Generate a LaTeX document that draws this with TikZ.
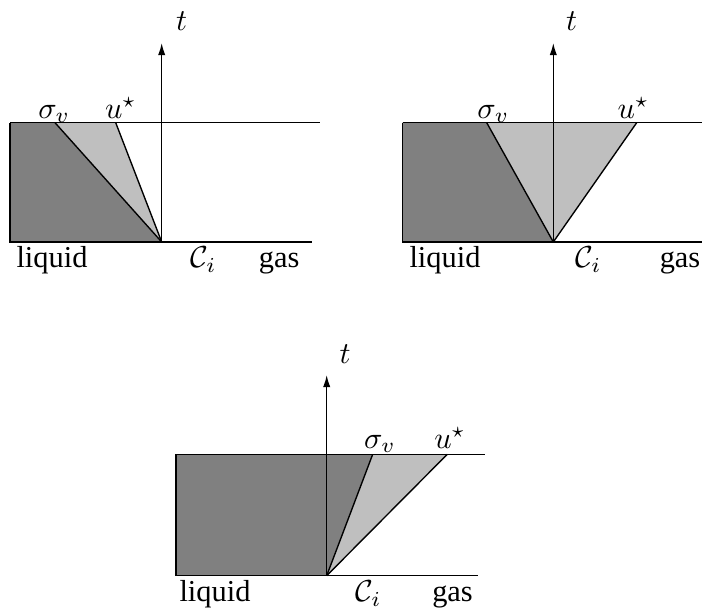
\documentclass[tikz,border=0pt]{standalone}
\usepackage{fontspec}
\setmainfont{Liberation Serif}
\usepackage{amsmath}
\usetikzlibrary{arrows.meta}

\begin{document}
\begin{tikzpicture}[
    x=0.329pt, y=0.329pt,
    darkzone/.style={fill=black!50},
    fanzone/.style={fill=black!25},
    wall/.style={draw=black, line width=0.45pt},
    taxis/.style={wall, -{Latex[length=4pt,width=2.4pt]}},
    lbl/.style={inner sep=0pt, anchor=base}
]
\useasboundingbox (0,0) rectangle (702,611);

% panel 1: both waves to the left
\begin{scope}[shift={(161.7,369)}]
\coordinate (O1) at (0,0);
\coordinate (L1) at (-151.7,0);
\coordinate (TL1) at (-151.7,119.3);
\coordinate (S1) at (-106.7,119.3);
\coordinate (U1) at (-46,119.3);
\coordinate (TR1) at (158.3,119.3);
\coordinate (BR1) at (150.3,0);
\coordinate (T1) at (0,199);
\fill[darkzone] (L1) -- (TL1) -- (S1) -- (O1) -- cycle;
\fill[fanzone] (S1) -- (U1) -- (O1) -- cycle;
\draw[wall] (TL1) -- (L1) -- (BR1);
\draw[wall] (TL1) -- (TR1);
\draw[wall] (O1) -- (S1);
\draw[wall] (O1) -- (U1);
\draw[taxis] (O1) -- (T1);
\node[lbl] (t1) at (20,211.3) {$t$};
\node[lbl] (sv1) at (-107.5,123.7) {$\sigma_v$};
\node[lbl] (us1) at (-41,123.7) {$u^\star$};
\node[lbl] (liq1) at (-109.7,-26) {liquid};
\node[lbl] (ci1) at (41.7,-26) {$\mathcal{C}_i$};
\node[lbl] (gas1) at (117.5,-26) {gas};
\end{scope}

% panel 2: fan across the interface
\begin{scope}[shift={(553.3,369)}]
\coordinate (O2) at (0,0);
\coordinate (L2) at (-150.6,0);
\coordinate (TL2) at (-150.6,119.3);
\coordinate (S2) at (-66.6,119.3);
\coordinate (U2) at (83.4,119.3);
\coordinate (TR2) at (160,119.3);
\coordinate (BR2) at (160,0);
\coordinate (T2) at (0,199);
\fill[darkzone] (L2) -- (TL2) -- (S2) -- (O2) -- cycle;
\fill[fanzone] (S2) -- (U2) -- (O2) -- cycle;
\draw[wall] (TL2) -- (L2) -- (BR2);
\draw[wall] (TL2) -- (TR2);
\draw[wall] (O2) -- (S2);
\draw[wall] (O2) -- (U2);
\draw[taxis] (O2) -- (T2);
\node[lbl] (t2) at (18.3,211.3) {$t$};
\node[lbl] (sv2) at (-60,123.7) {$\sigma_v$};
\node[lbl] (us2) at (80,123.7) {$u^\star$};
\node[lbl] (liq2) at (-108.3,-26) {liquid};
\node[lbl] (ci2) at (35,-26) {$\mathcal{C}_i$};
\node[lbl] (gas2) at (126.7,-26) {gas};
\end{scope}

% panel 3: both waves to the right
\begin{scope}[shift={(326.7,35.3)}]
\coordinate (O3) at (0,0);
\coordinate (L3) at (-150.7,0);
\coordinate (TL3) at (-150.7,121.4);
\coordinate (S3) at (46,121.4);
\coordinate (U3) at (120.6,121.4);
\coordinate (TR3) at (158.3,121.4);
\coordinate (BR3) at (151.3,0);
\coordinate (T3) at (0,200.7);
\fill[darkzone] (L3) -- (TL3) -- (S3) -- (O3) -- cycle;
\fill[fanzone] (S3) -- (U3) -- (O3) -- cycle;
\draw[wall] (TL3) -- (L3) -- (BR3);
\draw[wall] (TL3) -- (TR3);
\draw[wall] (O3) -- (S3);
\draw[wall] (O3) -- (U3);
\draw[taxis] (O3) -- (T3);
\node[lbl] (t3) at (18.3,212.4) {$t$};
\node[lbl] (sv3) at (53.3,127.4) {$\sigma_v$};
\node[lbl] (us3) at (123.3,127.4) {$u^\star$};
\node[lbl] (liq3) at (-111.7,-26) {liquid};
\node[lbl] (ci3) at (41.7,-26) {$\mathcal{C}_i$};
\node[lbl] (gas3) at (125.8,-26) {gas};
\end{scope}
\end{tikzpicture}
\end{document}
